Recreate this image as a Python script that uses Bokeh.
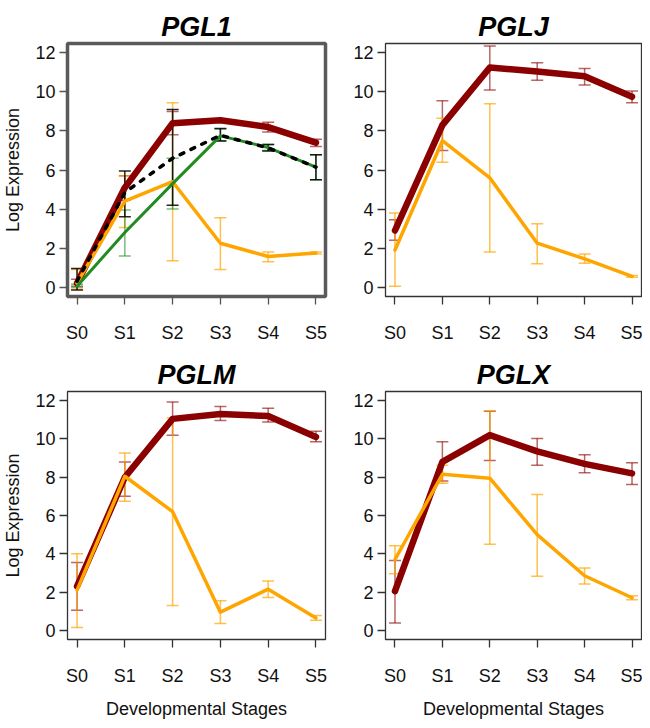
from bokeh.plotting import figure
from bokeh.models import ColumnDataSource, Whisker, TeeHead, FixedTicker, Range1d
from bokeh.layouts import gridplot
from bokeh.embed import file_html
from bokeh.resources import INLINE

stages = ["S0", "S1", "S2", "S3", "S4", "S5"]
xpos = [0, 1, 2, 3, 4, 5]
yticks = [0, 2, 4, 6, 8, 10, 12]

# PGL1
pgl1_red = [0.2, 5.1, 8.4, 8.55, 8.2, 7.4]
pgl1_red_lo = [0.05, 4.45, 7.8, 8.5, 7.95, 7.2]
pgl1_red_hi = [0.4, 5.7, 9.0, 8.6, 8.45, 7.58]
pgl1_orange = [0.2, 4.4, 5.4, 2.25, 1.57, 1.75]
pgl1_orange_lo = [-0.1, 3.05, 1.35, 0.9, 1.3, 1.7]
pgl1_orange_hi = [0.9, 5.7, 9.45, 3.55, 1.8, 1.8]
pgl1_green = [0.05, 2.8, 5.3, 7.75, 7.15, 6.15]
pgl1_green_lo = [0.0, 1.6, 4.0, 7.5, 7.0, 5.5]
pgl1_green_hi = [0.15, 3.95, 6.6, 8.1, 7.3, 6.78]
pgl1_black = [0.3, 4.85, 6.6, 7.78, 7.13, 6.15]
pgl1_black_lo = [-0.15, 3.6, 4.2, 7.48, 6.97, 5.5]
pgl1_black_hi = [0.95, 5.95, 9.1, 8.12, 7.3, 6.78]

# PGLJ
pglj_red = [2.9, 8.3, 11.25, 11.05, 10.8, 9.75]
pglj_red_lo = [2.4, 7.0, 10.1, 10.6, 10.35, 9.45]
pglj_red_hi = [3.45, 9.55, 12.35, 11.5, 11.2, 10.05]
pglj_orange = [1.9, 7.5, 5.6, 2.25, 1.45, 0.55]
pglj_orange_lo = [0.05, 6.4, 1.8, 1.2, 1.22, 0.5]
pglj_orange_hi = [3.8, 8.65, 9.4, 3.25, 1.7, 0.6]

# PGLM
pglm_red = [2.3, 8.0, 11.05, 11.3, 11.2, 10.1]
pglm_red_lo = [1.05, 7.0, 10.2, 10.97, 10.88, 9.86]
pglm_red_hi = [3.55, 8.8, 11.93, 11.7, 11.6, 10.4]
pglm_orange = [2.1, 8.05, 6.2, 0.95, 2.15, 0.65]
pglm_orange_lo = [0.15, 6.75, 1.3, 0.35, 1.72, 0.52]
pglm_orange_hi = [4.0, 9.27, 11.1, 1.55, 2.58, 0.78]

# PGLX
pglx_red = [2.05, 8.8, 10.2, 9.35, 8.7, 8.2]
pglx_red_lo = [0.38, 7.8, 8.88, 8.63, 8.23, 7.62]
pglx_red_hi = [3.65, 9.86, 11.45, 10.03, 9.17, 8.76]
pglx_orange = [3.7, 8.15, 7.95, 5.0, 2.85, 1.7]
pglx_orange_lo = [2.95, 7.68, 4.5, 2.82, 2.42, 1.6]
pglx_orange_hi = [4.42, 8.62, 11.48, 7.1, 3.26, 1.8]

FONT = "Liberation Sans"
RED = "#8B0000"
ORANGE = "#FFA500"
GREEN = "#228B22"
BLACK = "#000000"


def add_series(p, y, lo, hi, color, lw, bar_alpha, dash="solid"):
    src = ColumnDataSource(dict(x=xpos, y=y, lo=lo, hi=hi))
    p.line("x", "y", source=src, line_color=color, line_width=lw,
           line_cap="round", line_join="round", line_dash=dash)
    w = Whisker(base="x", lower="lo", upper="hi", source=src,
                line_color=color, line_alpha=bar_alpha, line_width=1.5,
                upper_head=TeeHead(size=12, line_color=color, line_alpha=bar_alpha, line_width=1.5),
                lower_head=TeeHead(size=12, line_color=color, line_alpha=bar_alpha, line_width=1.5))
    p.add_layout(w)


def make_panel(title, width, height, left, right, top, bottom, ylabel, xlabel, thick):
    p = figure(width=width, height=height, output_backend="svg", toolbar_location=None,
               x_range=Range1d(-0.2, 5.2), y_range=Range1d(-0.48, 12.48),
               min_border_left=left, min_border_right=right,
               min_border_top=top, min_border_bottom=bottom)
    p.title.text = title
    p.title.text_font = FONT
    p.title.text_font_style = "bold italic"
    p.title.text_font_size = "27px"
    p.title.text_color = "#000000"
    p.title.align = "center"
    p.title.standoff = 4
    p.xgrid.visible = False
    p.ygrid.visible = False
    p.background_fill_color = "white"
    p.border_fill_color = "white"
    if thick:
        p.outline_line_color = "#5a5a5a"
        p.outline_line_width = 3.5
    else:
        p.outline_line_color = "#333333"
        p.outline_line_width = 1.3
    tick_col = "#555555" if thick else "#333333"
    for ax in (p.xaxis[0], p.yaxis[0]):
        ax.axis_line_color = None
        ax.major_tick_in = 0
        ax.major_tick_out = 8
        ax.minor_tick_line_color = None
        ax.major_tick_line_color = tick_col
        ax.major_tick_line_width = 1.3
        ax.major_label_text_font = FONT
        ax.major_label_text_font_size = "18px"
        ax.major_label_text_color = "#111111"
        ax.axis_label_text_font = FONT
        ax.axis_label_text_font_style = "normal"
        ax.axis_label_text_font_size = "18px"
        ax.axis_label_text_color = "#111111"
    p.xaxis.ticker = FixedTicker(ticks=xpos)
    p.xaxis.major_label_overrides = {i: s for i, s in zip(xpos, stages)}
    p.xaxis.major_label_standoff = 18
    p.yaxis.ticker = FixedTicker(ticks=yticks)
    p.yaxis.major_label_standoff = 4
    if ylabel:
        p.yaxis.axis_label = ylabel
        p.yaxis.axis_label_standoff = 9
    if xlabel:
        p.xaxis.axis_label = xlabel
        p.xaxis.axis_label_standoff = 10
    return p


p1 = make_panel("PGL1", 329, 345, 66, 4, 43, 48, "Log Expression", None, True)
add_series(p1, pgl1_red, pgl1_red_lo, pgl1_red_hi, RED, 6.5, 0.6)
add_series(p1, pgl1_orange, pgl1_orange_lo, pgl1_orange_hi, ORANGE, 3.5, 0.7)
add_series(p1, pgl1_green, pgl1_green_lo, pgl1_green_hi, GREEN, 3, 0.6)
add_series(p1, pgl1_black, pgl1_black_lo, pgl1_black_hi, BLACK, 3.5, 0.85, dash="4 8")

p2 = make_panel("PGLJ", 313, 345, 56, 1, 43, 48, None, None, False)
add_series(p2, pglj_red, pglj_red_lo, pglj_red_hi, RED, 6.5, 0.6)
add_series(p2, pglj_orange, pglj_orange_lo, pglj_orange_hi, ORANGE, 3.5, 0.7)

p3 = make_panel("PGLM", 329, 376, 66, 4, 46, 78, "Log Expression", "Developmental Stages", False)
add_series(p3, pglm_red, pglm_red_lo, pglm_red_hi, RED, 6.5, 0.6)
add_series(p3, pglm_orange, pglm_orange_lo, pglm_orange_hi, ORANGE, 3.5, 0.7)

p4 = make_panel("PGLX", 313, 376, 56, 1, 46, 78, None, "Developmental Stages", False)
add_series(p4, pglx_red, pglx_red_lo, pglx_red_hi, RED, 6.5, 0.6)
add_series(p4, pglx_orange, pglx_orange_lo, pglx_orange_hi, ORANGE, 3.5, 0.7)

grid = gridplot([[p1, p2], [p3, p4]], toolbar_location=None)

open("out.html", "w").write(file_html(grid, INLINE))
